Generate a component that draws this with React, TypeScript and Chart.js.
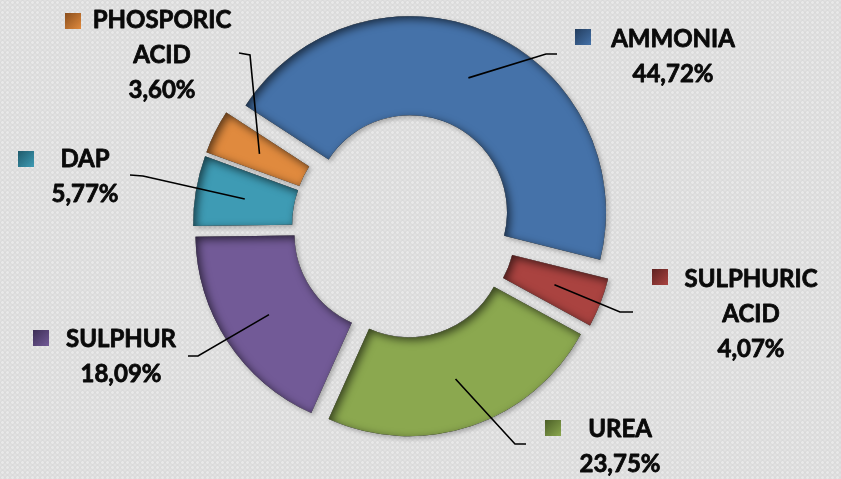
import React, { useEffect, useRef } from 'react';
import { Chart, registerables } from 'chart.js';

Chart.register(...registerables);

// ---- data ----
const categories = ['AMMONIA', 'SULPHURIC ACID', 'UREA', 'SULPHUR', 'DAP', 'PHOSPORIC ACID'];
const labelLines = [['AMMONIA'], ['SULPHURIC', 'ACID'], ['UREA'], ['SULPHUR'], ['DAP'], ['PHOSPORIC', 'ACID']];
const shares = [44.72, 4.07, 23.75, 18.09, 5.77, 3.6];
const sliceColors = ['#4572A9', '#AA4340', '#8BA84F', '#725A97', '#3E9BB4', '#E08A3E'];
const markerDarkColors = ['#233D5E', '#5E2220', '#4B5E27', '#3C2E55', '#1F5A6B', '#8A4E1C'];

// ---- label layout (positions only) ----
const labelCenterX = [673, 751, 620, 121, 85, 162];
const labelFirstBaseline = [47, 287, 437, 347, 167, 28];
const markerPos = [[575, 29], [652, 269], [545, 420], [33, 330], [18, 151], [65, 13]];
const elbowPos = [[546, 54], [620, 312], [515, 444], [198, 356], [143, 176], [250, 55]];
const lineEndPos = [[557, 54], [633, 312], [526, 444], [188, 356], [130, 175], [239, 53]];

const EXPLODE = 15;
const LINE_H = 35;
const FONT = 'bold 24px Lato, "Open Sans", sans-serif';

function arcPath(ctx: CanvasRenderingContext2D, x: number, y: number, r0: number, r1: number, a0: number, a1: number) {
  ctx.moveTo(x + Math.cos(a0) * r1, y + Math.sin(a0) * r1);
  ctx.arc(x, y, r1, a0, a1);
  ctx.arc(x, y, r0, a1, a0, true);
  ctx.closePath();
}

const explodePlugin = {
  id: 'explode',
  beforeDatasetDraw(chart: any, args: any) {
    const ctx: CanvasRenderingContext2D = chart.ctx;
    args.meta.data.forEach((arc: any) => {
      const p = arc.getProps(['x', 'y', 'startAngle', 'endAngle', 'innerRadius', 'outerRadius'], true);
      const mid = (p.startAngle + p.endAngle) / 2;
      const dx = Math.cos(mid) * EXPLODE;
      const dy = Math.sin(mid) * EXPLODE;
      ctx.save();
      ctx.translate(dx, dy);
      ctx.shadowColor = 'rgba(0,0,0,0.28)';
      ctx.shadowBlur = 5;
      ctx.shadowOffsetX = 2;
      ctx.shadowOffsetY = 2;
      arc.draw(ctx);
      ctx.restore();
      // inner shadow
      ctx.save();
      ctx.translate(dx, dy);
      ctx.beginPath();
      arcPath(ctx, p.x, p.y, p.innerRadius, p.outerRadius, p.startAngle, p.endAngle);
      ctx.clip();
      ctx.beginPath();
      ctx.rect(-3000, -3000, 7000, 7000);
      arcPath(ctx, p.x, p.y, p.innerRadius, p.outerRadius, p.startAngle, p.endAngle);
      ctx.shadowColor = 'rgba(0,0,0,0.6)';
      ctx.shadowBlur = 9;
      ctx.shadowOffsetX = 3;
      ctx.shadowOffsetY = 3;
      ctx.fillStyle = '#000';
      ctx.fill('evenodd');
      ctx.restore();
    });
    return false;
  },
};

const labelPlugin = {
  id: 'sliceLabels',
  afterDraw(chart: any) {
    const ctx: CanvasRenderingContext2D = chart.ctx;
    const meta = chart.getDatasetMeta(0);
    meta.data.forEach((arc: any, i: number) => {
      const p = arc.getProps(['x', 'y', 'startAngle', 'endAngle', 'innerRadius', 'outerRadius'], true);
      const mid = (p.startAngle + p.endAngle) / 2;
      const rr = EXPLODE + (p.innerRadius + p.outerRadius) / 2;
      const sx = p.x + Math.cos(mid) * rr;
      const sy = p.y + Math.sin(mid) * rr;
      // leader line
      ctx.save();
      ctx.strokeStyle = '#000';
      ctx.lineWidth = 1.6;
      ctx.beginPath();
      ctx.moveTo(sx, sy);
      ctx.lineTo(elbowPos[i][0], elbowPos[i][1]);
      ctx.lineTo(lineEndPos[i][0], lineEndPos[i][1]);
      ctx.stroke();
      ctx.restore();
      // marker
      const [mx, my] = markerPos[i];
      ctx.save();
      const g = ctx.createLinearGradient(mx, my, mx + 16, my + 16);
      g.addColorStop(0, markerDarkColors[i]);
      g.addColorStop(1, sliceColors[i]);
      ctx.fillStyle = g;
      ctx.fillRect(mx, my, 16, 16);
      ctx.restore();
      // text
      ctx.save();
      ctx.font = FONT;
      ctx.fillStyle = '#0a0a0a';
      ctx.strokeStyle = '#0a0a0a';
      ctx.lineWidth = 0.8;
      ctx.lineJoin = 'round';
      ctx.textAlign = 'center';
      ctx.textBaseline = 'alphabetic';
      const lines = [...labelLines[i], shares[i].toFixed(2).replace('.', ',') + '%'];
      lines.forEach((t, k) => {
        const ty = labelFirstBaseline[i] + k * LINE_H;
        ctx.fillText(t, labelCenterX[i], ty);
        ctx.strokeText(t, labelCenterX[i], ty);
      });
      ctx.restore();
    });
  },
};

export default function App() {
  const ref = useRef<HTMLCanvasElement>(null);
  useEffect(() => {
    document.body.style.margin = '0';
    const chart = new Chart(ref.current as HTMLCanvasElement, {
      type: 'doughnut',
      data: {
        labels: categories,
        datasets: [{ data: shares, backgroundColor: sliceColors, borderWidth: 0, offset: 0 }],
      },
      options: {
        responsive: false,
        animation: false,
        rotation: -57,
        radius: 196,
        cutout: '49.5%',
        layout: { padding: { left: 0, right: 33, top: 0, bottom: 27 } },
        plugins: { legend: { display: false }, tooltip: { enabled: false } },
        events: [],
      } as any,
      plugins: [explodePlugin, labelPlugin],
    });
    return () => chart.destroy();
  }, []);
  return (
    <div
      style={{
        width: 841,
        height: 479,
        backgroundColor: '#d9d9d9',
        backgroundImage:
          'radial-gradient(rgba(255,255,255,0.4) 1px, transparent 1.7px), radial-gradient(rgba(255,255,255,0.25) 1px, transparent 1.7px)',
        backgroundSize: '5px 5px, 5px 5px',
        backgroundPosition: '0 0, 2.5px 2.5px',
      }}
    >
      <canvas ref={ref} width={841} height={479} style={{ display: 'block' }} />
    </div>
  );
}
